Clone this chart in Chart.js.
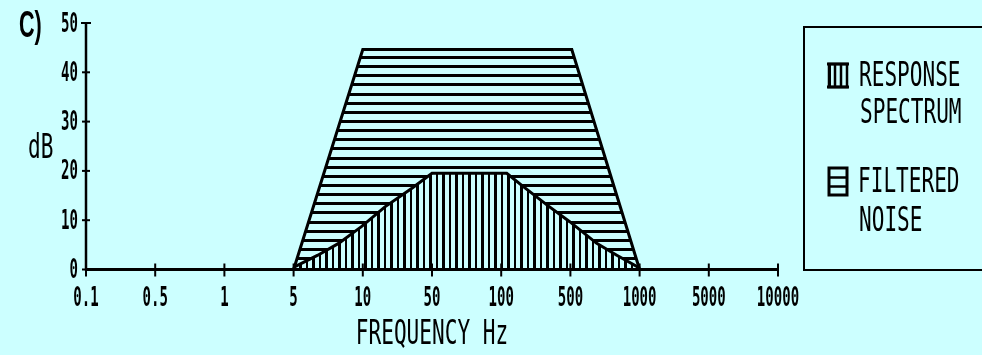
<!DOCTYPE html>
<html>
<head>
<meta charset="utf-8">
<script src="https://cdn.jsdelivr.net/npm/chart.js@4/dist/chart.umd.min.js"></script>
<style>
  html, body { margin: 0; padding: 0; background: #ccffff; }
  #wrap { width: 982px; height: 355px; position: relative; }
</style>
</head>
<body>
<div id="wrap"><canvas id="c"></canvas></div>
<script>
// Frequency axis: evenly spaced decade/half-decade steps (index 0..10)
const freqLabels = ['0.1', '0.5', '1', '5', '10', '50', '100', '500', '1000', '5000', '10000'];
const dbTicks = [0, 10, 20, 30, 40, 50];

// Filtered noise band (position on the frequency axis, level in dB)
const noiseX  = [3, 4, 7.02, 8];
const noiseDb = [0, 44.6, 44.6, 0];

// Response spectrum (position on the frequency axis, level in dB)
const respX  = [3, 3.02, 3.35, 3.65, 3.98, 4.32, 4.71, 5.0, 6.08, 6.32, 6.66, 6.99, 7.38, 7.67, 7.96, 8];
const respDb = [0, 0.6, 2.9, 5.3, 8.7, 12.7, 16.5, 19.5, 19.5, 16.8, 13.1, 9.7, 5.3, 2.9, 0.6, 0];

const seriesNames = ['RESPONSE SPECTRUM', 'FILTERED NOISE'];
const xTitle = 'FREQUENCY Hz';
const yTitle = 'dB';
const panelTag = 'C)';

const BG = '#ccffff';
const INK = '#000000';

function toPoints(xs, ys) { return xs.map((x, i) => ({ x: x, y: ys[i] })); }

// Hatch fills: horizontal ruling for the noise band, vertical ruling for the response
function makeHatch(kind) {
  const c = document.createElement('canvas');
  const g = c.getContext('2d');
  if (kind === 'h') {
    c.width = 8; c.height = 64;
    g.fillStyle = BG; g.fillRect(0, 0, 8, 64);
    g.fillStyle = INK;
    for (let k = 0; k < 7; k++) {
      const y = Math.round(2.2 + k * 64 / 7) - 1;
      g.fillRect(0, y, 8, 3);
    }
  } else {
    c.width = 13; c.height = 8;
    g.fillStyle = BG; g.fillRect(0, 0, 13, 8);
    g.fillStyle = INK;
    g.fillRect(0, 0, 3, 8);
    g.fillRect(7, 0, 2, 8);
  }
  return g.createPattern(c, 'repeat');
}

function squeezedText(ctx, str, x, y, font, sx, align) {
  ctx.save();
  ctx.translate(x, y);
  ctx.scale(sx, 1);
  ctx.font = font;
  ctx.textAlign = align || 'left';
  ctx.textBaseline = 'alphabetic';
  ctx.fillStyle = INK;
  ctx.fillText(str, 0, 0);
  ctx.restore();
}

const TICK_FONT = 'bold 27px "DejaVu Sans Mono"';
const TICK_SX = 0.52;
const BIG_FONT = '34px "DejaVu Sans Mono"';
const BIG_SX = 0.62;

// Axes, ticks, titles and the boxed legend
const decorations = {
  id: 'decorations',
  afterDraw(chart) {
    const ctx = chart.ctx;
    const xs = chart.scales.x, ys = chart.scales.y;
    const x0 = xs.getPixelForValue(0), x1 = xs.getPixelForValue(freqLabels.length - 1);
    const y0 = ys.getPixelForValue(0), y1 = ys.getPixelForValue(50);
    ctx.save();
    ctx.strokeStyle = INK;
    ctx.lineCap = 'butt';

    // y axis
    ctx.lineWidth = 2.5;
    ctx.beginPath(); ctx.moveTo(x0, y1); ctx.lineTo(x0, y0 + 1); ctx.stroke();
    // x axis
    ctx.lineWidth = 3;
    ctx.beginPath(); ctx.moveTo(x0, y0); ctx.lineTo(x1, y0); ctx.stroke();

    // y ticks and labels
    ctx.lineWidth = 2;
    dbTicks.forEach(v => {
      const y = ys.getPixelForValue(v);
      const ext = v === 50 ? 5 : 4;
      ctx.beginPath(); ctx.moveTo(x0 - ext, y); ctx.lineTo(x0 + ext, y); ctx.stroke();
      squeezedText(ctx, String(v), x0 - 8, y + 8.5, TICK_FONT, TICK_SX, 'right');
    });

    // x ticks and labels
    freqLabels.forEach((lab, i) => {
      const x = xs.getPixelForValue(i);
      ctx.beginPath(); ctx.moveTo(x, y0 - 6); ctx.lineTo(x, y0 + 7); ctx.stroke();
      squeezedText(ctx, lab, x, 306, TICK_FONT, TICK_SX, 'center');
    });

    // axis titles and panel tag
    squeezedText(ctx, xTitle, (x0 + x1) / 2, 344, BIG_FONT, BIG_SX, 'center');
    squeezedText(ctx, yTitle, 28, 158, BIG_FONT, BIG_SX, 'left');
    squeezedText(ctx, panelTag, 19, 37, 'bold 36px "Liberation Sans"', 0.6, 'left');

    // legend box (runs off the right edge)
    ctx.lineWidth = 2;
    ctx.beginPath();
    ctx.moveTo(990, 27); ctx.lineTo(804, 27); ctx.lineTo(804, 270); ctx.lineTo(990, 270);
    ctx.stroke();

    // response icon: box with vertical bars
    ctx.lineWidth = 2.5;
    ctx.strokeRect(829, 64, 18, 23);
    ctx.beginPath();
    ctx.moveTo(835, 64); ctx.lineTo(835, 87);
    ctx.moveTo(841, 64); ctx.lineTo(841, 87);
    ctx.stroke();
    ctx.lineWidth = 3;
    ctx.beginPath();
    ctx.moveTo(827, 64); ctx.lineTo(849, 64);
    ctx.moveTo(827, 87); ctx.lineTo(849, 87);
    ctx.moveTo(829.5, 64); ctx.lineTo(829.5, 87);
    ctx.stroke();

    // noise icon: box with horizontal bars
    ctx.lineWidth = 3;
    ctx.strokeRect(829, 168, 18, 27);
    ctx.lineWidth = 2.5;
    ctx.beginPath();
    ctx.moveTo(829, 177.5); ctx.lineTo(847, 177.5);
    ctx.moveTo(829, 186.5); ctx.lineTo(847, 186.5);
    ctx.stroke();

    const resp = seriesNames[0].split(' ');
    const noise = seriesNames[1].split(' ');
    squeezedText(ctx, resp[0], 859, 86, BIG_FONT, BIG_SX, 'left');
    squeezedText(ctx, resp[1], 860, 123, BIG_FONT, BIG_SX, 'left');
    squeezedText(ctx, noise[0], 858, 192, BIG_FONT, BIG_SX, 'left');
    squeezedText(ctx, noise[1], 859, 231, BIG_FONT, BIG_SX, 'left');

    ctx.restore();
  }
};

const ctx = document.getElementById('c').getContext('2d');
new Chart(ctx, {
  type: 'line',
  data: {
    datasets: [
      {
        label: seriesNames[0],
        data: toPoints(respX, respDb),
        borderColor: INK,
        borderWidth: 3,
        backgroundColor: makeHatch('v'),
        fill: 'origin',
        tension: 0,
        pointRadius: 0
      },
      {
        label: seriesNames[1],
        data: toPoints(noiseX, noiseDb),
        borderColor: INK,
        borderWidth: 3,
        backgroundColor: makeHatch('h'),
        fill: 'origin',
        tension: 0,
        pointRadius: 0
      }
    ]
  },
  options: {
    responsive: true,
    maintainAspectRatio: false,
    animation: false,
    devicePixelRatio: 1,
    layout: { padding: { left: 86, right: 204, top: 23, bottom: 85.5 } },
    scales: {
      x: { type: 'linear', min: 0, max: freqLabels.length - 1, display: false },
      y: { type: 'linear', min: 0, max: 50, display: false }
    },
    plugins: {
      legend: { display: false },
      tooltip: { enabled: false }
    }
  },
  plugins: [decorations]
});
</script>
</body>
</html>
